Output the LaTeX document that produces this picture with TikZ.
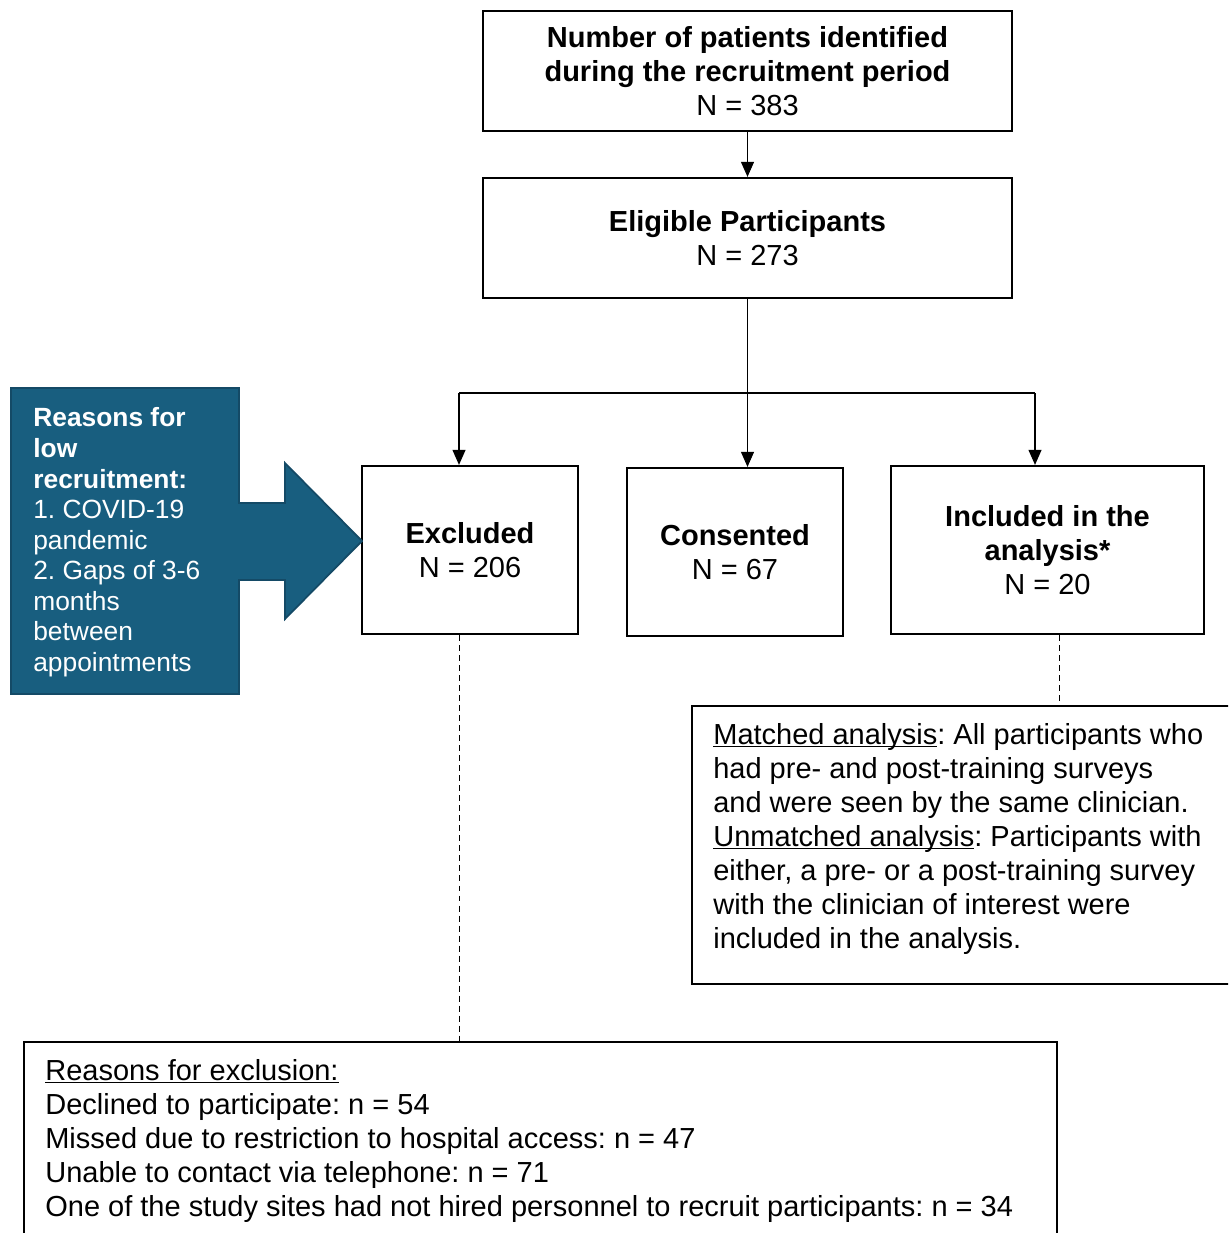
\documentclass[tikz,border=0pt]{standalone}
\usepackage{fontspec}
\setmainfont{Liberation Sans}
\usepackage{xcolor}
\usetikzlibrary{arrows.meta,positioning,calc}
\definecolor{recblue}{RGB}{24,94,127}
\definecolor{recedge}{RGB}{20,74,102}
\frenchspacing
\newcommand{\ulnote}[1]{\underline{\raisebox{0pt}[\height][0pt]{#1}}}

\begin{document}
\begin{tikzpicture}[x=0.02cm, y=-0.02cm,
    block/.style={rectangle, draw=black, line width=1.3pt, align=center, inner sep=0pt, font=\fontsize{16.5}{19.35}\selectfont},
    note/.style={align=left, inner xsep=0.44cm, inner ysep=0.36cm, font=\fontsize{16.5}{19.35}\selectfont},
    arrow/.style={-{Triangle[width=0.26cm,length=0.3cm]}, line width=0.6pt},
    dashline/.style={line width=0.5pt, dash pattern=on 3.4pt off 2.3pt}]

    \clip (0,0) rectangle (1228,1233);

    \node[block, minimum width=10.58cm, minimum height=2.4cm] (ident) at (747.5,71) {\textbf{Number of patients identified}\\\textbf{during the recruitment period}\\N = 383};
    \node[block, minimum width=10.58cm, minimum height=2.4cm] (elig) at (747.5,238) {\textbf{Eligible Participants}\\N = 273};
    \node[block, minimum width=4.32cm, minimum height=3.36cm] (excl) at (470,550) {\textbf{Excluded}\\N = 206};
    \node[block, minimum width=4.32cm, minimum height=3.36cm] (cons) at (735,552) {\textbf{Consented}\\N = 67};
    \node[block, minimum width=6.26cm, minimum height=3.36cm] (incl) at (1047.5,550) {\textbf{Included in the}\\\textbf{analysis*}\\N = 20};

    % notes below the counts
    \node[block, minimum width=11.18cm, minimum height=5.56cm, anchor=north west] (match) at (691,705) {};
    \node[note, anchor=north west] (matchtxt) at (match.north west) {\ulnote{Matched analysis}: All participants who\\had pre- and post-training surveys\\and were seen by the same clinician.\\\ulnote{Unmatched analysis}: Participants with\\either, a pre- or a post-training survey\\with the clinician of interest were\\included in the analysis.};
    \node[block, minimum width=20.66cm, minimum height=5cm, anchor=north west] (reasons) at (23,1041) {};
    \node[note, anchor=north west] (reasonstxt) at (reasons.north west) {\ulnote{Reasons for exclusion:}\\Declined to participate: n = 54\\Missed due to restriction to hospital access: n = 47\\Unable to contact via telephone: n = 71\\One of the study sites had not hired personnel to recruit participants: n = 34};

    % callout arrow
    \filldraw[fill=recblue, draw=recedge, line width=1pt] (11,388) -- (239,388) -- (239,503) -- (285,503) -- (285,463) -- (362,541) -- (285,619) -- (285,580) -- (239,580) -- (239,694) -- (11,694) -- cycle;
    \node[anchor=north west, align=left, text=white, inner xsep=0.44cm, inner ysep=0.39cm, font=\fontsize{15}{17.4}\selectfont] (lowrec) at (11,388) {\textbf{Reasons for}\\\textbf{low}\\\textbf{recruitment:}\\1. COVID-19\\pandemic\\2. Gaps of 3-6\\months\\between\\appointments};

    \coordinate (jl) at (459,393);
    \coordinate (jr) at (1035,393);

    \draw[arrow] (ident) -- (elig);
    \draw[arrow] (elig.south) -- (elig.south |- cons.north);
    \draw[line width=0.6pt] (jl) -- (jr);
    \draw[arrow] (jl) -- (jl |- excl.north);
    \draw[arrow] (jr) -- (jr |- incl.north);
    \draw[dashline] (jl |- excl.south) -- (jl |- reasons.north);
    \draw[dashline] ([xshift=0.23cm]incl.south) -- ([xshift=0.23cm]incl.south |- match.north);
\end{tikzpicture}
\end{document}
